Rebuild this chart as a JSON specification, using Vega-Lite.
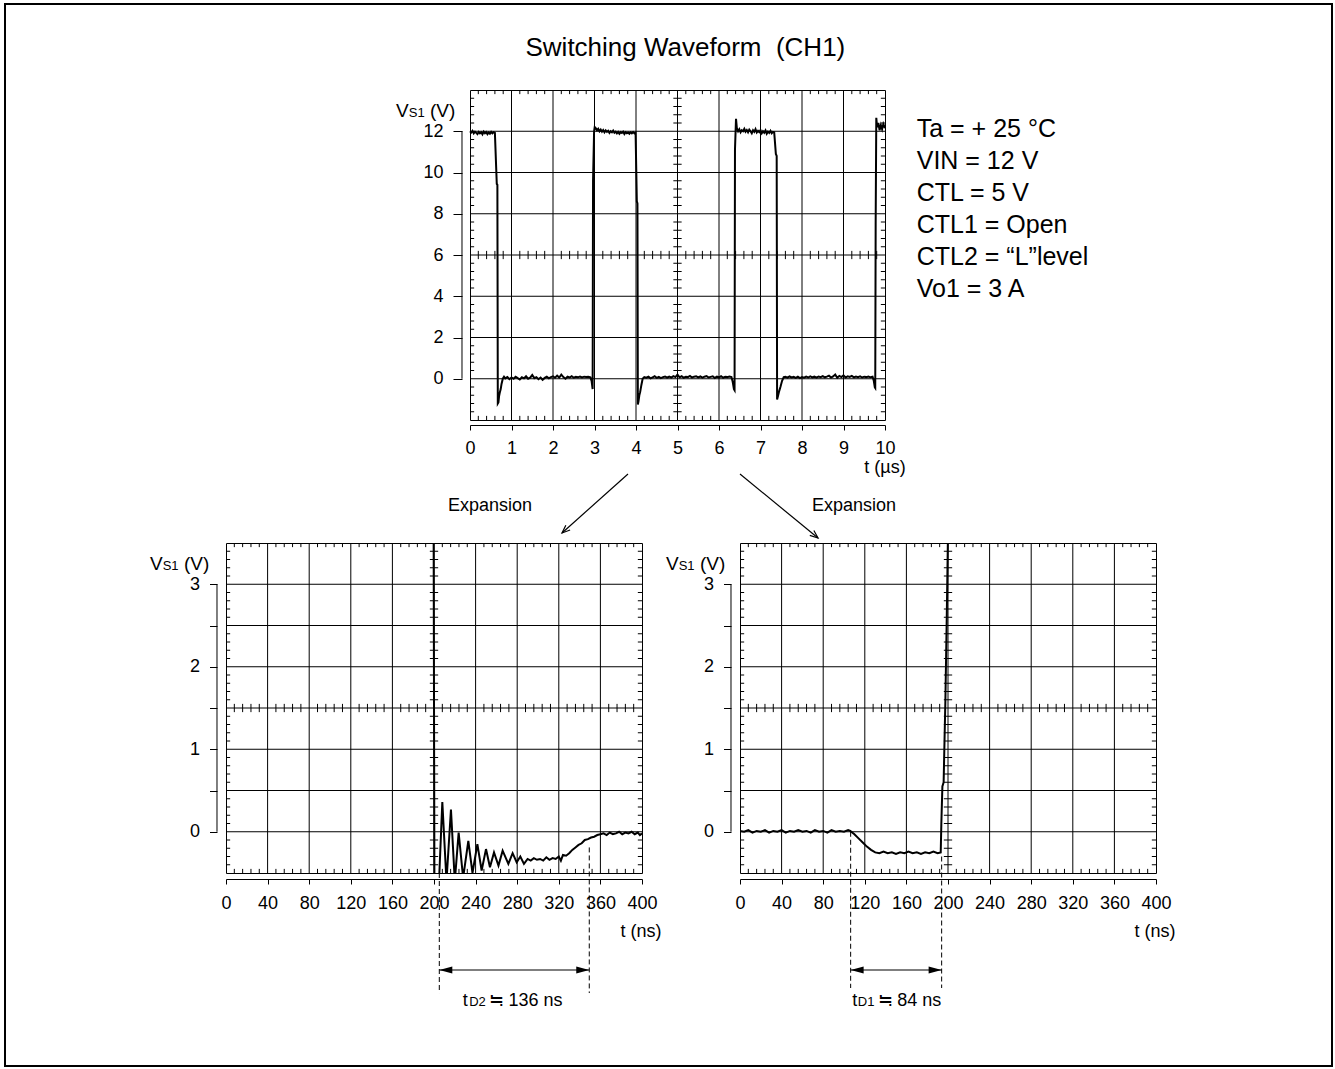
{
  "$schema": "https://vega.github.io/schema/vega-lite/v6.json",
  "background": "#ffffff",
  "padding": {"left": 3, "top": 2, "right": 0, "bottom": 0},
  "autosize": {"type": "pad"},
  "config": {
    "font": "Liberation Sans",
    "view": {"stroke": "#000", "strokeWidth": 1},
    "mark": {"color": "#000"},
    "text": {"font": "Liberation Sans", "color": "#000"},
    "axis": {"labelFont": "Liberation Sans", "labelFontSize": 18, "labelColor": "#000", "tickColor": "#000", "domainColor": "#000", "tickWidth": 1, "domainWidth": 1, "grid": false, "labelFlush": false, "labelOverlap": false}
  },
  "datasets": {
    "one": [{}],
    "tMinX": [0.2,0.4,0.6,0.8,1.2,1.4,1.6,1.8,2.2,2.4,2.6,2.8,3.2,3.4,3.6,3.8,4.2,4.4,4.6,4.8,5.2,5.4,5.6,5.8,6.2,6.4,6.6,6.8,7.2,7.4,7.6,7.8,8.2,8.4,8.6,8.8,9.2,9.4,9.6,9.8],
    "tMinY": [-1.6,-1.2,-0.8,-0.4,0.4,0.8,1.2,1.6,2.4,2.8,3.2,3.6,4.4,4.8,5.2,5.6,6.4,6.8,7.2,7.6,8.4,8.8,9.2,9.6,10.4,10.8,11.2,11.6,12.4,12.8,13.2,13.6],
    "bMinX": [8,16,24,32,48,56,64,72,88,96,104,112,128,136,144,152,168,176,184,192,208,216,224,232,248,256,264,272,288,296,304,312,328,336,344,352,368,376,384,392],
    "bMinY": [-0.4,-0.3,-0.2,-0.1,0.1,0.2,0.3,0.4,0.6,0.7,0.8,0.9,1.1,1.2,1.3,1.4,1.6,1.7,1.8,1.9,2.1,2.2,2.3,2.4,2.6,2.7,2.8,2.9,3.1,3.2,3.3,3.4],
    "tWave": [
      {"t":0,"v":12.0},{"t":0.03,"v":11.94},{"t":0.06,"v":12.02},{"t":0.09,"v":11.9},{"t":0.12,"v":11.98},{"t":0.15,"v":11.92},{"t":0.18,"v":11.86},{"t":0.21,"v":11.97},{"t":0.24,"v":11.9},{"t":0.27,"v":11.95},{"t":0.3,"v":11.85},{"t":0.33,"v":11.98},{"t":0.36,"v":11.9},{"t":0.39,"v":11.96},{"t":0.42,"v":11.86},{"t":0.45,"v":11.94},{"t":0.48,"v":11.88},{"t":0.51,"v":11.97},{"t":0.54,"v":11.9},{"t":0.57,"v":11.95},{"t":0.6,"v":11.92},
      {"t":0.645,"v":9.45},{"t":0.66,"v":9.4},{"t":0.67,"v":-1.2},{"t":0.685,"v":-1.15},{"t":0.7,"v":-0.85},{"t":0.72,"v":-0.65},{"t":0.74,"v":-0.5},{"t":0.76,"v":-0.25},{"t":0.79,"v":0.0},{"t":0.82,"v":0.1},
      {"t":0.85,"v":0.02},{"t":0.9,"v":0.08},{"t":0.95,"v":-0.02},{"t":1.0,"v":0.06},{"t":1.05,"v":0.0},{"t":1.1,"v":0.1},{"t":1.15,"v":0.03},{"t":1.2,"v":-0.03},{"t":1.25,"v":0.07},{"t":1.3,"v":0.02},{"t":1.35,"v":0.12},{"t":1.4,"v":0.0},{"t":1.45,"v":0.05},{"t":1.5,"v":0.18},{"t":1.55,"v":0.03},{"t":1.6,"v":0.08},{"t":1.65,"v":-0.02},{"t":1.7,"v":0.06},{"t":1.75,"v":-0.05},{"t":1.8,"v":0.04},{"t":1.85,"v":0.1},{"t":1.9,"v":0.02},{"t":1.95,"v":0.08},{"t":2.0,"v":0.12},{"t":2.05,"v":0.05},{"t":2.1,"v":0.15},{"t":2.15,"v":0.06},{"t":2.2,"v":0.2},{"t":2.25,"v":0.08},{"t":2.3,"v":0.0},{"t":2.35,"v":0.1},{"t":2.4,"v":0.06},{"t":2.45,"v":0.12},{"t":2.5,"v":0.05},{"t":2.55,"v":0.09},{"t":2.6,"v":0.07},{"t":2.65,"v":0.11},{"t":2.7,"v":0.06},{"t":2.75,"v":0.1},{"t":2.8,"v":0.08},{"t":2.85,"v":0.1},{"t":2.9,"v":0.07},
      {"t":2.93,"v":-0.1},{"t":2.955,"v":-0.5},{"t":2.965,"v":9.6},{"t":2.99,"v":12.0},{"t":3.005,"v":12.2},
      {"t":3.03,"v":12.15},{"t":3.06,"v":12.05},{"t":3.09,"v":12.12},{"t":3.12,"v":12.0},{"t":3.15,"v":12.08},{"t":3.18,"v":11.98},{"t":3.21,"v":12.06},{"t":3.24,"v":11.95},{"t":3.27,"v":12.04},{"t":3.3,"v":11.97},{"t":3.33,"v":12.02},{"t":3.36,"v":11.92},{"t":3.39,"v":12.0},{"t":3.42,"v":11.95},{"t":3.45,"v":12.03},{"t":3.48,"v":11.93},{"t":3.51,"v":11.98},{"t":3.54,"v":11.9},{"t":3.57,"v":11.97},{"t":3.6,"v":11.88},{"t":3.63,"v":11.96},{"t":3.66,"v":11.92},{"t":3.69,"v":11.98},{"t":3.72,"v":11.86},{"t":3.75,"v":11.95},{"t":3.78,"v":11.9},{"t":3.81,"v":11.94},{"t":3.84,"v":11.88},{"t":3.87,"v":11.95},{"t":3.9,"v":11.9},{"t":3.93,"v":11.96},{"t":3.96,"v":11.9},{"t":3.99,"v":11.93},
      {"t":4.02,"v":8.6},{"t":4.035,"v":8.5},{"t":4.045,"v":-1.25},{"t":4.06,"v":-1.1},{"t":4.08,"v":-0.8},{"t":4.1,"v":-0.65},{"t":4.13,"v":-0.3},{"t":4.16,"v":0.0},{"t":4.2,"v":0.08},
      {"t":4.25,"v":0.05},{"t":4.3,"v":0.1},{"t":4.35,"v":0.02},{"t":4.4,"v":0.07},{"t":4.45,"v":0.12},{"t":4.5,"v":0.04},{"t":4.55,"v":0.09},{"t":4.6,"v":0.03},{"t":4.65,"v":0.08},{"t":4.7,"v":0.11},{"t":4.75,"v":0.05},{"t":4.8,"v":0.1},{"t":4.85,"v":0.06},{"t":4.9,"v":0.13},{"t":4.95,"v":0.08},{"t":5.0,"v":0.2},{"t":5.05,"v":0.07},{"t":5.1,"v":0.12},{"t":5.15,"v":0.05},{"t":5.2,"v":0.1},{"t":5.25,"v":0.08},{"t":5.3,"v":0.14},{"t":5.35,"v":0.06},{"t":5.4,"v":0.1},{"t":5.45,"v":0.12},{"t":5.5,"v":0.07},{"t":5.55,"v":0.11},{"t":5.6,"v":0.05},{"t":5.65,"v":0.1},{"t":5.7,"v":0.13},{"t":5.75,"v":0.06},{"t":5.8,"v":0.09},{"t":5.85,"v":0.12},{"t":5.9,"v":0.04},{"t":5.95,"v":0.1},{"t":6.0,"v":0.07},{"t":6.05,"v":0.12},{"t":6.1,"v":0.05},{"t":6.15,"v":0.1},{"t":6.2,"v":0.08},{"t":6.25,"v":0.11},{"t":6.3,"v":0.08},
      {"t":6.33,"v":-0.15},{"t":6.36,"v":-0.5},{"t":6.375,"v":-0.55},{"t":6.385,"v":11.1},{"t":6.41,"v":12.6},{"t":6.43,"v":12.15},
      {"t":6.46,"v":12.0},{"t":6.49,"v":12.1},{"t":6.52,"v":11.95},{"t":6.55,"v":12.05},{"t":6.58,"v":12.0},{"t":6.61,"v":12.12},{"t":6.64,"v":11.98},{"t":6.67,"v":12.06},{"t":6.7,"v":11.95},{"t":6.73,"v":12.08},{"t":6.76,"v":12.0},{"t":6.79,"v":11.9},{"t":6.82,"v":12.05},{"t":6.85,"v":11.97},{"t":6.88,"v":12.1},{"t":6.91,"v":11.94},{"t":6.94,"v":12.02},{"t":6.97,"v":11.96},{"t":7.0,"v":12.05},{"t":7.03,"v":11.9},{"t":7.06,"v":12.0},{"t":7.09,"v":11.93},{"t":7.12,"v":12.04},{"t":7.15,"v":11.88},{"t":7.18,"v":11.98},{"t":7.21,"v":11.92},{"t":7.24,"v":12.02},{"t":7.27,"v":11.9},{"t":7.3,"v":11.97},{"t":7.33,"v":11.95},
      {"t":7.37,"v":10.9},{"t":7.39,"v":10.8},{"t":7.4,"v":-1.0},{"t":7.42,"v":-0.85},{"t":7.45,"v":-0.6},{"t":7.48,"v":-0.4},{"t":7.52,"v":-0.1},{"t":7.56,"v":0.08},
      {"t":7.6,"v":0.1},{"t":7.65,"v":0.05},{"t":7.7,"v":0.11},{"t":7.75,"v":0.06},{"t":7.8,"v":0.09},{"t":7.85,"v":0.04},{"t":7.9,"v":0.1},{"t":7.95,"v":0.03},{"t":8.0,"v":0.08},{"t":8.05,"v":0.05},{"t":8.1,"v":0.1},{"t":8.15,"v":0.06},{"t":8.2,"v":0.12},{"t":8.25,"v":0.07},{"t":8.3,"v":0.1},{"t":8.35,"v":0.05},{"t":8.4,"v":0.11},{"t":8.45,"v":0.08},{"t":8.5,"v":0.13},{"t":8.55,"v":0.07},{"t":8.6,"v":0.1},{"t":8.65,"v":0.15},{"t":8.7,"v":0.06},{"t":8.75,"v":0.11},{"t":8.8,"v":0.2},{"t":8.85,"v":0.05},{"t":8.9,"v":0.14},{"t":8.95,"v":0.08},{"t":9.0,"v":0.16},{"t":9.05,"v":0.06},{"t":9.1,"v":0.12},{"t":9.15,"v":0.09},{"t":9.2,"v":0.14},{"t":9.25,"v":0.07},{"t":9.3,"v":0.11},{"t":9.35,"v":0.08},{"t":9.4,"v":0.12},{"t":9.45,"v":0.06},{"t":9.5,"v":0.1},{"t":9.55,"v":0.08},{"t":9.6,"v":0.11},{"t":9.65,"v":0.07},{"t":9.7,"v":0.1},
      {"t":9.73,"v":-0.1},{"t":9.755,"v":-0.42},{"t":9.765,"v":-0.45},{"t":9.775,"v":7.5},{"t":9.79,"v":12.65},{"t":9.81,"v":12.2},{"t":9.84,"v":12.4},{"t":9.87,"v":12.05},{"t":9.9,"v":12.3},{"t":9.93,"v":12.1},{"t":9.96,"v":12.35},{"t":10.0,"v":12.15}
    ],
    "blWave": [
      {"t":199.6,"v":3.9},{"t":200.4,"v":-0.6},{"t":203.5,"v":-0.6},{"t":205,"v":-0.55},{"t":208,"v":0.36},{"t":212,"v":-0.6},{"t":216.3,"v":0.27},{"t":220,"v":-0.6},{"t":223.7,"v":-0.01},{"t":228,"v":-0.56},{"t":233,"v":-0.11},{"t":237,"v":-0.5},{"t":241.7,"v":-0.15},{"t":245.8,"v":-0.47},{"t":250,"v":-0.21},{"t":253.8,"v":-0.43},{"t":257.7,"v":-0.25},{"t":262,"v":-0.41},{"t":266,"v":-0.23},{"t":271.5,"v":-0.39},{"t":275.6,"v":-0.26},{"t":279.5,"v":-0.37},{"t":283,"v":-0.3},{"t":286.5,"v":-0.39},{"t":290,"v":-0.33},{"t":293,"v":-0.35},{"t":296,"v":-0.32},{"t":299,"v":-0.34},{"t":302,"v":-0.33},{"t":305,"v":-0.35},{"t":308,"v":-0.31},{"t":311,"v":-0.34},{"t":314,"v":-0.32},{"t":317,"v":-0.33},{"t":320,"v":-0.3},{"t":322,"v":-0.35},{"t":324,"v":-0.28},{"t":327,"v":-0.29},{"t":330,"v":-0.26},{"t":333,"v":-0.22},{"t":336,"v":-0.19},{"t":339,"v":-0.16},{"t":342,"v":-0.14},{"t":345,"v":-0.1},{"t":348,"v":-0.09},{"t":351,"v":-0.07},{"t":354,"v":-0.06},{"t":357,"v":-0.04},{"t":360,"v":-0.03},{"t":363,"v":-0.02},{"t":366,"v":-0.04},{"t":369,"v":-0.01},{"t":372,"v":-0.03},{"t":375,"v":-0.02},{"t":378,"v":0.0},{"t":381,"v":-0.03},{"t":384,"v":-0.01},{"t":387,"v":-0.02},{"t":390,"v":0.0},{"t":393,"v":-0.03},{"t":396,"v":-0.01},{"t":398,"v":-0.04},{"t":400,"v":-0.02}
    ],
    "brWave": [
      {"t":0,"v":0.01},{"t":4,"v":0.0},{"t":8,"v":0.02},{"t":12,"v":-0.01},{"t":16,"v":0.01},{"t":20,"v":0.0},{"t":24,"v":0.02},{"t":28,"v":-0.01},{"t":32,"v":0.01},{"t":36,"v":0.0},{"t":40,"v":0.02},{"t":44,"v":-0.01},{"t":48,"v":0.01},{"t":52,"v":0.0},{"t":56,"v":0.02},{"t":60,"v":0.0},{"t":64,"v":0.01},{"t":68,"v":-0.01},{"t":72,"v":0.02},{"t":76,"v":0.0},{"t":80,"v":0.01},{"t":84,"v":-0.01},{"t":88,"v":0.02},{"t":92,"v":0.0},{"t":96,"v":0.01},{"t":100,"v":0.0},{"t":104,"v":0.02},{"t":106,"v":0.01},{"t":110,"v":-0.03},{"t":114,"v":-0.08},{"t":118,"v":-0.13},{"t":122,"v":-0.18},{"t":126,"v":-0.22},{"t":130,"v":-0.25},{"t":134,"v":-0.26},{"t":138,"v":-0.24},{"t":142,"v":-0.26},{"t":146,"v":-0.25},{"t":150,"v":-0.27},{"t":154,"v":-0.25},{"t":158,"v":-0.26},{"t":162,"v":-0.24},{"t":166,"v":-0.26},{"t":170,"v":-0.25},{"t":174,"v":-0.27},{"t":178,"v":-0.25},{"t":182,"v":-0.26},{"t":186,"v":-0.24},{"t":190,"v":-0.26},{"t":193,"v":-0.25},{"t":193.6,"v":0.1},{"t":194.6,"v":0.55},{"t":195.8,"v":0.6},{"t":197.5,"v":1.6},{"t":198.8,"v":2.6},{"t":200.2,"v":3.8}
    ]
  },
  "bounds": "flush",
  "spacing": 453,
  "vconcat": [
    {
      "bounds": "flush",
      "spacing": 44,
      "hconcat": [
        {"width": 200, "height": 330, "view": {"stroke": null}, "data": {"values": []}, "mark": "point", "encoding": {}},
        {
          "width": 415, "height": 330,
          "resolve": {"axis": {"x": "independent", "y": "independent"}},
          "layer": [
            {"data": {"values": [1,2,3,4,5,6,7,8,9]}, "mark": {"type": "rule", "color": "#000", "strokeWidth": 1},
             "encoding": {"x": {"field": "data", "type": "quantitative", "scale": {"domain": [0, 10], "nice": false, "zero": false},
               "axis": {"orient": "bottom", "values": [0,1,2,3,4,5,6,7,8,9,10], "offset": 5, "tickSize": 5, "labelPadding": 9, "title": null, "domain": true}}}},
            {"data": {"values": [0,2,4,6,8,10,12]}, "mark": {"type": "rule", "color": "#000", "strokeWidth": 1},
             "encoding": {"y": {"field": "data", "type": "quantitative", "scale": {"domain": [-2, 14], "nice": false, "zero": false},
               "axis": {"orient": "left", "values": [0,2,4,6,8,10,12], "offset": 8, "tickSize": 9, "labelPadding": 10, "title": null, "domain": false}}}},
            {"data": {"name": "tMinX"}, "mark": {"type": "rule", "strokeWidth": 1},
             "encoding": {"x": {"field": "data", "type": "quantitative", "axis": null}, "y": {"datum": 14, "axis": null}, "y2": {"datum": 13.8}}},
            {"data": {"name": "tMinX"}, "mark": {"type": "rule", "strokeWidth": 1},
             "encoding": {"x": {"field": "data", "type": "quantitative", "axis": null}, "y": {"datum": -2, "axis": null}, "y2": {"datum": -1.8}}},
            {"data": {"name": "tMinX"}, "mark": {"type": "rule", "strokeWidth": 1},
             "encoding": {"x": {"field": "data", "type": "quantitative", "axis": null}, "y": {"datum": 6.2, "axis": null}, "y2": {"datum": 5.8}}},
            {"data": {"name": "tMinY"}, "mark": {"type": "rule", "strokeWidth": 1},
             "encoding": {"y": {"field": "data", "type": "quantitative", "axis": null}, "x": {"datum": 0, "axis": null}, "x2": {"datum": 0.1}}},
            {"data": {"name": "tMinY"}, "mark": {"type": "rule", "strokeWidth": 1},
             "encoding": {"y": {"field": "data", "type": "quantitative", "axis": null}, "x": {"datum": 9.9, "axis": null}, "x2": {"datum": 10}}},
            {"data": {"name": "tMinY"}, "mark": {"type": "rule", "strokeWidth": 1},
             "encoding": {"y": {"field": "data", "type": "quantitative", "axis": null}, "x": {"datum": 4.9, "axis": null}, "x2": {"datum": 5.1}}},
            {"data": {"name": "one"}, "mark": {"type": "rule", "strokeWidth": 1},
             "encoding": {"x": {"datum": -0.1928, "axis": null}, "y": {"datum": 0, "axis": null}, "y2": {"datum": 12}}},
            {"data": {"name": "tWave"}, "mark": {"type": "line", "color": "#000", "strokeWidth": 2},
             "encoding": {"x": {"field": "t", "type": "quantitative", "axis": null}, "y": {"field": "v", "type": "quantitative", "axis": null}}},
            {"data": {"name": "one"}, "mark": {"type": "text", "text": "Switching Waveform\u00a0 (CH1)", "fontSize": 26, "align": "center", "baseline": "alphabetic"},
             "encoding": {"x": {"datum": 5.19, "axis": null}, "y": {"datum": 15.648, "axis": null}}},
            {"data": {"name": "one"}, "mark": {"type": "text", "text": ["Ta = + 25 °C", "VIN = 12 V", "CTL = 5 V", "CTL1 = Open", "CTL2 = “L”level", "Vo1 = 3 A"], "fontSize": 25, "lineHeight": 31.9, "align": "left", "baseline": "alphabetic"},
             "encoding": {"x": {"datum": 10.764, "axis": null}, "y": {"datum": 11.707, "axis": null}}},
            {"data": {"name": "one"}, "mark": {"type": "text", "text": "V", "fontSize": 19, "align": "left", "baseline": "alphabetic"},
             "encoding": {"x": {"datum": -1.783, "axis": null}, "y": {"datum": 12.69, "axis": null}}},
            {"data": {"name": "one"}, "mark": {"type": "text", "text": "S1", "fontSize": 13, "align": "left", "baseline": "alphabetic", "dx": 12.7},
             "encoding": {"x": {"datum": -1.783, "axis": null}, "y": {"datum": 12.69, "axis": null}}},
            {"data": {"name": "one"}, "mark": {"type": "text", "text": "(V)", "fontSize": 19, "align": "left", "baseline": "alphabetic", "dx": 34},
             "encoding": {"x": {"datum": -1.783, "axis": null}, "y": {"datum": 12.69, "axis": null}}},
            {"data": {"name": "one"}, "mark": {"type": "text", "text": "t (µs)", "fontSize": 18, "align": "center", "baseline": "middle"},
             "encoding": {"x": {"datum": 10, "axis": null}, "y": {"datum": -4.327, "axis": null}}},
            {"data": {"name": "one"}, "mark": {"type": "text", "text": "Expansion", "fontSize": 18, "align": "center", "baseline": "middle"},
             "encoding": {"x": {"datum": 0.482, "axis": null}, "y": {"datum": -6.17, "axis": null}}},
            {"data": {"name": "one"}, "mark": {"type": "text", "text": "Expansion", "fontSize": 18, "align": "center", "baseline": "middle"},
             "encoding": {"x": {"datum": 9.253, "axis": null}, "y": {"datum": -6.17, "axis": null}}},
            {"data": {"name": "one"}, "mark": {"type": "rule", "strokeWidth": 1.2},
             "encoding": {"x": {"datum": 3.807, "axis": null}, "y": {"datum": -4.618, "axis": null}, "x2": {"datum": 2.217}, "y2": {"datum": -7.479}}},
            {"data": {"name": "one"}, "mark": {"type": "rule", "strokeWidth": 1.2},
             "encoding": {"x": {"datum": 6.506, "axis": null}, "y": {"datum": -4.618, "axis": null}, "x2": {"datum": 8.386}, "y2": {"datum": -7.721}}},
            {"data": {"name": "one"}, "mark": {"type": "point", "shape": "M-2,-0.8L0,0L-2,0.8", "filled": false, "strokeWidth": 1.2, "size": 64, "angle": 138.2, "opacity": 1},
             "encoding": {"x": {"datum": 2.217, "axis": null}, "y": {"datum": -7.479, "axis": null}}},
            {"data": {"name": "one"}, "mark": {"type": "point", "shape": "M-2,-0.8L0,0L-2,0.8", "filled": false, "strokeWidth": 1.2, "size": 64, "angle": 39.4, "opacity": 1},
             "encoding": {"x": {"datum": 8.386, "axis": null}, "y": {"datum": -7.721, "axis": null}}}
          ]
        }
      ]
    },
    {
      "bounds": "flush",
      "spacing": 98,
      "hconcat": [
        {
          "width": 416, "height": 330,
          "resolve": {"axis": {"x": "independent", "y": "independent"}},
          "layer": [
            {"data": {"values": [40,80,120,160,200,240,280,320,360]}, "mark": {"type": "rule", "color": "#000", "strokeWidth": 1},
             "encoding": {"x": {"field": "data", "type": "quantitative", "scale": {"domain": [0, 400], "nice": false, "zero": false},
               "axis": {"orient": "bottom", "values": [0,40,80,120,160,200,240,280,320,360,400], "offset": 6, "tickSize": 5, "labelPadding": 10, "title": null, "domain": true}}}},
            {"data": {"values": [0,0.5,1,1.5,2,2.5,3]}, "mark": {"type": "rule", "color": "#000", "strokeWidth": 1},
             "encoding": {"y": {"field": "data", "type": "quantitative", "scale": {"domain": [-0.5, 3.5], "nice": false, "zero": false},
               "axis": {"orient": "left", "values": [0,0.5,1,1.5,2,2.5,3], "labelExpr": "datum.value % 1 === 0 ? '' + datum.value : ''", "offset": 9, "tickSize": 7.5, "labelPadding": 10, "title": null, "domain": false}}}},
            {"data": {"name": "bMinX"}, "mark": {"type": "rule", "strokeWidth": 1},
             "encoding": {"x": {"field": "data", "type": "quantitative", "axis": null}, "y": {"datum": 3.5, "axis": null}, "y2": {"datum": 3.45}}},
            {"data": {"name": "bMinX"}, "mark": {"type": "rule", "strokeWidth": 1},
             "encoding": {"x": {"field": "data", "type": "quantitative", "axis": null}, "y": {"datum": -0.5, "axis": null}, "y2": {"datum": -0.45}}},
            {"data": {"name": "bMinX"}, "mark": {"type": "rule", "strokeWidth": 1},
             "encoding": {"x": {"field": "data", "type": "quantitative", "axis": null}, "y": {"datum": 1.55, "axis": null}, "y2": {"datum": 1.45}}},
            {"data": {"name": "bMinY"}, "mark": {"type": "rule", "strokeWidth": 1},
             "encoding": {"y": {"field": "data", "type": "quantitative", "axis": null}, "x": {"datum": 0, "axis": null}, "x2": {"datum": 4}}},
            {"data": {"name": "bMinY"}, "mark": {"type": "rule", "strokeWidth": 1},
             "encoding": {"y": {"field": "data", "type": "quantitative", "axis": null}, "x": {"datum": 396, "axis": null}, "x2": {"datum": 400}}},
            {"data": {"name": "bMinY"}, "mark": {"type": "rule", "strokeWidth": 1},
             "encoding": {"y": {"field": "data", "type": "quantitative", "axis": null}, "x": {"datum": 196, "axis": null}, "x2": {"datum": 204}}},
            {"data": {"name": "one"}, "mark": {"type": "rule", "strokeWidth": 1},
             "encoding": {"x": {"datum": -8.654, "axis": null}, "y": {"datum": 0, "axis": null}, "y2": {"datum": 3}}},
            {"data": {"name": "blWave"}, "mark": {"type": "line", "color": "#000", "strokeWidth": 2, "clip": true},
             "encoding": {"x": {"field": "t", "type": "quantitative", "axis": null}, "y": {"field": "v", "type": "quantitative", "axis": null}}},
            {"data": {"name": "one"}, "mark": {"type": "text", "text": "V", "fontSize": 19, "align": "left", "baseline": "alphabetic"},
             "encoding": {"x": {"datum": -73.08, "axis": null}, "y": {"datum": 3.173, "axis": null}}},
            {"data": {"name": "one"}, "mark": {"type": "text", "text": "S1", "fontSize": 13, "align": "left", "baseline": "alphabetic", "dx": 12.7},
             "encoding": {"x": {"datum": -73.08, "axis": null}, "y": {"datum": 3.173, "axis": null}}},
            {"data": {"name": "one"}, "mark": {"type": "text", "text": "(V)", "fontSize": 19, "align": "left", "baseline": "alphabetic", "dx": 34},
             "encoding": {"x": {"datum": -73.08, "axis": null}, "y": {"datum": 3.173, "axis": null}}},
            {"data": {"name": "one"}, "mark": {"type": "text", "text": "t (ns)", "fontSize": 18, "align": "center", "baseline": "middle"},
             "encoding": {"x": {"datum": 399, "axis": null}, "y": {"datum": -1.215, "axis": null}}},
            {"data": {"name": "one"}, "mark": {"type": "rule", "strokeWidth": 1, "strokeDash": [5, 3]},
             "encoding": {"x": {"datum": 205.1, "axis": null}, "y": {"datum": -0.5, "axis": null}, "y2": {"datum": -1.955}}},
            {"data": {"name": "one"}, "mark": {"type": "rule", "strokeWidth": 1, "strokeDash": [5, 3]},
             "encoding": {"x": {"datum": 349.3, "axis": null}, "y": {"datum": -0.19, "axis": null}, "y2": {"datum": -1.955}}},
            {"data": {"name": "one"}, "mark": {"type": "rule", "strokeWidth": 1.2},
             "encoding": {"x": {"datum": 205.1, "axis": null}, "x2": {"datum": 349.3}, "y": {"datum": -1.676, "axis": null}}},
            {"data": {"name": "one"}, "mark": {"type": "point", "shape": "M0,0L2,-0.55L2,0.55Z", "filled": true, "size": 169, "opacity": 1},
             "encoding": {"x": {"datum": 205.1, "axis": null}, "y": {"datum": -1.676, "axis": null}}},
            {"data": {"name": "one"}, "mark": {"type": "point", "shape": "M0,0L-2,-0.55L-2,0.55Z", "filled": true, "size": 169, "opacity": 1},
             "encoding": {"x": {"datum": 349.3, "axis": null}, "y": {"datum": -1.676, "axis": null}}},
            {"data": {"name": "one"}, "mark": {"type": "text", "text": "t", "fontSize": 18, "align": "left", "baseline": "alphabetic"},
             "encoding": {"x": {"datum": 227.6, "axis": null}, "y": {"datum": -2.118, "axis": null}}},
            {"data": {"name": "one"}, "mark": {"type": "text", "text": "D2", "fontSize": 13, "align": "left", "baseline": "alphabetic", "dx": 6.5},
             "encoding": {"x": {"datum": 227.6, "axis": null}, "y": {"datum": -2.118, "axis": null}}},
            {"data": {"name": "one"}, "mark": {"type": "text", "text": "≒", "font": "Noto Sans CJK JP", "fontSize": 18, "align": "left", "baseline": "alphabetic", "dx": 26.5},
             "encoding": {"x": {"datum": 227.6, "axis": null}, "y": {"datum": -2.118, "axis": null}}},
            {"data": {"name": "one"}, "mark": {"type": "text", "text": "136 ns", "fontSize": 18, "align": "left", "baseline": "alphabetic", "dx": 45.7},
             "encoding": {"x": {"datum": 227.6, "axis": null}, "y": {"datum": -2.118, "axis": null}}},
            {"data": {"name": "one"}, "mark": {"type": "rect", "filled": false, "stroke": "#000", "strokeWidth": 2, "clip": false},
             "encoding": {"x": {"datum": -212.5, "axis": null}, "x2": {"datum": 1063.46}, "y": {"datum": 10.033, "axis": null}, "y2": {"datum": -2.839}}}
          ]
        },
        {
          "width": 416, "height": 330,
          "resolve": {"axis": {"x": "independent", "y": "independent"}},
          "layer": [
            {"data": {"values": [40,80,120,160,200,240,280,320,360]}, "mark": {"type": "rule", "color": "#000", "strokeWidth": 1},
             "encoding": {"x": {"field": "data", "type": "quantitative", "scale": {"domain": [0, 400], "nice": false, "zero": false},
               "axis": {"orient": "bottom", "values": [0,40,80,120,160,200,240,280,320,360,400], "offset": 6, "tickSize": 5, "labelPadding": 10, "title": null, "domain": true}}}},
            {"data": {"values": [0,0.5,1,1.5,2,2.5,3]}, "mark": {"type": "rule", "color": "#000", "strokeWidth": 1},
             "encoding": {"y": {"field": "data", "type": "quantitative", "scale": {"domain": [-0.5, 3.5], "nice": false, "zero": false},
               "axis": {"orient": "left", "values": [0,0.5,1,1.5,2,2.5,3], "labelExpr": "datum.value % 1 === 0 ? '' + datum.value : ''", "offset": 9, "tickSize": 7.5, "labelPadding": 10, "title": null, "domain": false}}}},
            {"data": {"name": "bMinX"}, "mark": {"type": "rule", "strokeWidth": 1},
             "encoding": {"x": {"field": "data", "type": "quantitative", "axis": null}, "y": {"datum": 3.5, "axis": null}, "y2": {"datum": 3.45}}},
            {"data": {"name": "bMinX"}, "mark": {"type": "rule", "strokeWidth": 1},
             "encoding": {"x": {"field": "data", "type": "quantitative", "axis": null}, "y": {"datum": -0.5, "axis": null}, "y2": {"datum": -0.45}}},
            {"data": {"name": "bMinX"}, "mark": {"type": "rule", "strokeWidth": 1},
             "encoding": {"x": {"field": "data", "type": "quantitative", "axis": null}, "y": {"datum": 1.55, "axis": null}, "y2": {"datum": 1.45}}},
            {"data": {"name": "bMinY"}, "mark": {"type": "rule", "strokeWidth": 1},
             "encoding": {"y": {"field": "data", "type": "quantitative", "axis": null}, "x": {"datum": 0, "axis": null}, "x2": {"datum": 4}}},
            {"data": {"name": "bMinY"}, "mark": {"type": "rule", "strokeWidth": 1},
             "encoding": {"y": {"field": "data", "type": "quantitative", "axis": null}, "x": {"datum": 396, "axis": null}, "x2": {"datum": 400}}},
            {"data": {"name": "bMinY"}, "mark": {"type": "rule", "strokeWidth": 1},
             "encoding": {"y": {"field": "data", "type": "quantitative", "axis": null}, "x": {"datum": 196, "axis": null}, "x2": {"datum": 204}}},
            {"data": {"name": "one"}, "mark": {"type": "rule", "strokeWidth": 1},
             "encoding": {"x": {"datum": -8.654, "axis": null}, "y": {"datum": 0, "axis": null}, "y2": {"datum": 3}}},
            {"data": {"name": "brWave"}, "mark": {"type": "line", "color": "#000", "strokeWidth": 2, "clip": true},
             "encoding": {"x": {"field": "t", "type": "quantitative", "axis": null}, "y": {"field": "v", "type": "quantitative", "axis": null}}},
            {"data": {"name": "one"}, "mark": {"type": "text", "text": "V", "fontSize": 19, "align": "left", "baseline": "alphabetic"},
             "encoding": {"x": {"datum": -71.15, "axis": null}, "y": {"datum": 3.173, "axis": null}}},
            {"data": {"name": "one"}, "mark": {"type": "text", "text": "S1", "fontSize": 13, "align": "left", "baseline": "alphabetic", "dx": 12.7},
             "encoding": {"x": {"datum": -71.15, "axis": null}, "y": {"datum": 3.173, "axis": null}}},
            {"data": {"name": "one"}, "mark": {"type": "text", "text": "(V)", "fontSize": 19, "align": "left", "baseline": "alphabetic", "dx": 34},
             "encoding": {"x": {"datum": -71.15, "axis": null}, "y": {"datum": 3.173, "axis": null}}},
            {"data": {"name": "one"}, "mark": {"type": "text", "text": "t (ns)", "fontSize": 18, "align": "center", "baseline": "middle"},
             "encoding": {"x": {"datum": 399, "axis": null}, "y": {"datum": -1.215, "axis": null}}},
            {"data": {"name": "one"}, "mark": {"type": "rule", "strokeWidth": 1, "strokeDash": [5, 3]},
             "encoding": {"x": {"datum": 106.4, "axis": null}, "y": {"datum": 0.0, "axis": null}, "y2": {"datum": -1.894}}},
            {"data": {"name": "one"}, "mark": {"type": "rule", "strokeWidth": 1, "strokeDash": [5, 3]},
             "encoding": {"x": {"datum": 193.9, "axis": null}, "y": {"datum": -0.3, "axis": null}, "y2": {"datum": -1.894}}},
            {"data": {"name": "one"}, "mark": {"type": "rule", "strokeWidth": 1.2},
             "encoding": {"x": {"datum": 106.4, "axis": null}, "x2": {"datum": 193.9}, "y": {"datum": -1.676, "axis": null}}},
            {"data": {"name": "one"}, "mark": {"type": "point", "shape": "M0,0L2,-0.55L2,0.55Z", "filled": true, "size": 169, "opacity": 1},
             "encoding": {"x": {"datum": 106.4, "axis": null}, "y": {"datum": -1.676, "axis": null}}},
            {"data": {"name": "one"}, "mark": {"type": "point", "shape": "M0,0L-2,-0.55L-2,0.55Z", "filled": true, "size": 169, "opacity": 1},
             "encoding": {"x": {"datum": 193.9, "axis": null}, "y": {"datum": -1.676, "axis": null}}},
            {"data": {"name": "one"}, "mark": {"type": "text", "text": "t", "fontSize": 18, "align": "left", "baseline": "alphabetic"},
             "encoding": {"x": {"datum": 108.0, "axis": null}, "y": {"datum": -2.118, "axis": null}}},
            {"data": {"name": "one"}, "mark": {"type": "text", "text": "D1", "fontSize": 13, "align": "left", "baseline": "alphabetic", "dx": 5.5},
             "encoding": {"x": {"datum": 108.0, "axis": null}, "y": {"datum": -2.118, "axis": null}}},
            {"data": {"name": "one"}, "mark": {"type": "text", "text": "≒", "font": "Noto Sans CJK JP", "fontSize": 18, "align": "left", "baseline": "alphabetic", "dx": 26},
             "encoding": {"x": {"datum": 108.0, "axis": null}, "y": {"datum": -2.118, "axis": null}}},
            {"data": {"name": "one"}, "mark": {"type": "text", "text": "84 ns", "fontSize": 18, "align": "left", "baseline": "alphabetic", "dx": 45},
             "encoding": {"x": {"datum": 108.0, "axis": null}, "y": {"datum": -2.118, "axis": null}}}
          ]
        }
      ]
    }
  ]
}
